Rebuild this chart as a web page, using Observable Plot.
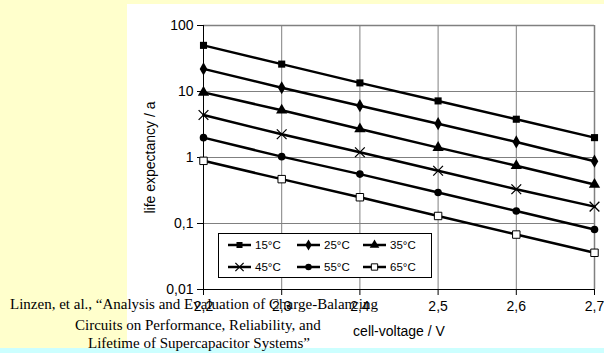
<!DOCTYPE html>
<html><head><meta charset="utf-8">
<script src="https://cdn.jsdelivr.net/npm/d3@7"></script>
<script src="https://cdn.jsdelivr.net/npm/@observablehq/plot@0.6"></script>
<style>
html,body{margin:0;padding:0;}
body{width:604px;height:353px;position:relative;overflow:hidden;background:#ffffcc;font-family:Arial,"Liberation Sans",sans-serif;}
#white{position:absolute;left:127px;top:4px;width:477px;height:344px;background:#fff;}
#cyan{position:absolute;left:0;top:348px;width:604px;height:5px;background:#ccffff;}
#chart{position:absolute;left:0;top:0;}
#legend{position:absolute;left:218px;top:233px;}
.cite{position:absolute;font-family:"Liberation Serif","Times New Roman",serif;font-size:15px;white-space:nowrap;color:#000;line-height:1;}
</style></head><body>
<div id="white"></div><div id="cyan"></div>
<div id="chart"></div>
<div id="legend"></div>
<div class="cite" style="left:10px;top:297px">Linzen, et al., “Analysis and Evaluation of Charge-Balancing</div>
<div class="cite" style="left:75px;top:318px">Circuits on Performance, Reliability, and</div>
<div class="cite" style="left:88px;top:336px">Lifetime of Supercapacitor Systems”</div>
<script>
const voltages = [2.2, 2.3, 2.4, 2.5, 2.6, 2.7];
const seriesNames = ["15°C", "25°C", "35°C", "45°C", "55°C", "65°C"];
const life15 = [50, 26, 13.5, 7.2, 3.8, 2.0];
const life25 = [22, 11.4, 6.1, 3.25, 1.72, 0.88];
const life35 = [9.7, 5.2, 2.7, 1.41, 0.75, 0.39];
const life45 = [4.4, 2.25, 1.2, 0.63, 0.33, 0.18];
const life55 = [2.0, 1.03, 0.56, 0.295, 0.155, 0.081];
const life65 = [0.89, 0.47, 0.25, 0.13, 0.068, 0.036];
const yTicks = [0.01, 0.1, 1, 10, 100];
const xTickLabels = ["2,2", "2,3", "2,4", "2,5", "2,6", "2,7"];
const yTickLabels = ["0,01", "0,1", "1", "10", "100"];
const xLabel = "cell-voltage / V";
const yLabel = "life expectancy / a";

const allSeries = [life15, life25, life35, life45, life55, life65];
const data = [];
allSeries.forEach((vals, i) => vals.forEach((v, j) => data.push({series: seriesNames[i], voltage: voltages[j], life: v})));

// marker styles per series
const markerStyle = {
  "15°C": {symbol: "square", r: 4, fill: "black", stroke: "none"},
  "25°C": {symbol: "diamond", r: 4, fill: "black", stroke: "none"},
  "35°C": {symbol: "triangle", r: 4.2, fill: "black", stroke: "none"},
  "45°C": {symbol: "times", r: 4.5, fill: "none", stroke: "black", strokeWidth: 1.3},
  "55°C": {symbol: "circle", r: 3.8, fill: "black", stroke: "none"},
  "65°C": {symbol: "square", r: 4.2, fill: "white", stroke: "black", strokeWidth: 1}
};

const gridColor = "#808080";
const dotMarks = seriesNames.map(s => {
  const st = markerStyle[s];
  return Plot.dot(data.filter(d => d.series === s), {x: "voltage", y: "life", symbol: () => st.symbol, r: st.r, fill: st.fill, stroke: st.stroke, strokeWidth: st.strokeWidth || 1});
});

const chart = Plot.plot({
  width: 604,
  height: 353,
  marginLeft: 203,
  marginRight: 10,
  marginTop: 25,
  marginBottom: 64,
  style: {background: "transparent", fontFamily: "Arial, 'Liberation Sans', sans-serif", fontSize: "14px", color: "black"},
  x: {domain: [2.2, 2.7]},
  y: {type: "log", domain: [0.01, 100]},
  symbol: {type: "identity"},
  marks: [
    Plot.gridX(voltages, {stroke: gridColor, strokeOpacity: 1, strokeWidth: 1}),
    Plot.gridY(yTicks, {stroke: gridColor, strokeOpacity: 1, strokeWidth: 1}),
    Plot.ruleY([100], {stroke: gridColor, strokeWidth: 1.5}),
    Plot.ruleX([2.7], {stroke: gridColor, strokeWidth: 1.5}),
    Plot.axisX({ticks: voltages, tickFormat: (d, i) => xTickLabels[voltages.indexOf(d)], tickSize: 6, tickPadding: 6, label: null, fontSize: 14, stroke: "black"}),
    Plot.axisY({ticks: yTicks, tickFormat: d => yTickLabels[yTicks.indexOf(d)], tickSize: 6, tickPadding: 4, label: null, fontSize: 14, stroke: "black"}),
    Plot.ruleX([2.2], {stroke: "black", strokeWidth: 1}),
    Plot.ruleY([0.01], {stroke: "black", strokeWidth: 1}),
    Plot.line(data, {x: "voltage", y: "life", z: "series", stroke: "black", strokeWidth: 2.5}),
    ...dotMarks,
    Plot.text([yLabel], {frameAnchor: "left", dx: -53, rotate: -90, text: d => d, fontSize: 14, textAnchor: "middle", lineAnchor: "middle", fill: "black"}),
    Plot.text([xLabel], {frameAnchor: "bottom", dy: 42, text: d => d, fontSize: 14, textAnchor: "middle", lineAnchor: "middle", fill: "black"})
  ]
});
document.getElementById("chart").appendChild(chart);

// legend
const lw = 214, lh = 45;
const svg = d3.select("#legend").append("svg").attr("width", lw).attr("height", lh).style("display", "block");
svg.append("rect").attr("x", 0.5).attr("y", 0.5).attr("width", lw - 1).attr("height", lh - 1).attr("fill", "white").attr("stroke", "black").attr("stroke-width", 1);
const symMap = {square: d3.symbolSquare, diamond: d3.symbolDiamond, triangle: d3.symbolTriangle, times: d3.symbolTimes, circle: d3.symbolCircle};
const colX = [10, 79, 145];
const rowY = [12, 34];
seriesNames.forEach((s, i) => {
  const cx = colX[i % 3], cy = rowY[Math.floor(i / 3)];
  const g = svg.append("g").attr("transform", `translate(${cx},${cy})`);
  g.append("line").attr("x1", 0).attr("x2", 23).attr("y1", 0).attr("y2", 0).attr("stroke", "black").attr("stroke-width", 2.5);
  const st = markerStyle[s];
  const r = st.r * 0.85;
  g.append("path").attr("transform", "translate(11.5,0)")
    .attr("d", d3.symbol(symMap[st.symbol], r * r * Math.PI)())
    .attr("fill", st.fill).attr("stroke", st.stroke === "none" ? null : st.stroke).attr("stroke-width", st.strokeWidth || 1);
  g.append("text").attr("x", 27).attr("y", 0).attr("dy", "0.36em").attr("font-size", 11.5).attr("font-family", "Arial, 'Liberation Sans', sans-serif").text(s);
});
</script>
</body></html>
